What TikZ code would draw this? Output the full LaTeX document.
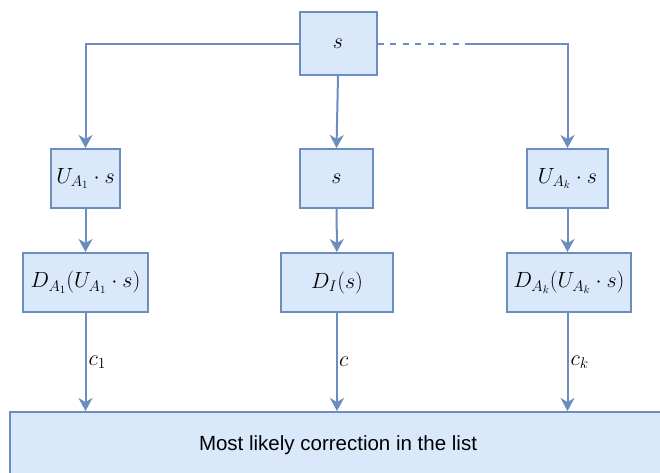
\documentclass[tikz,border=0pt]{standalone}
\usepackage{fix-cm}
\usepackage{fontspec}
\newfontfamily\listfont{Liberation Sans}
\usetikzlibrary{arrows.meta}
\definecolor{boxfill}{HTML}{DAE8FC}
\definecolor{boxline}{HTML}{6C8EBF}

\begin{document}
\begin{tikzpicture}[x=1pt,y=-1pt,
    blk/.style={draw=boxline,fill=boxfill,line width=2pt,inner sep=0pt,minimum height=59pt,font=\fontsize{22}{26}\selectfont},
    link/.style={draw=boxline,line width=2pt},
    flow/.style={link,-{Stealth[length=13pt,width=14pt,inset=4pt]}},
    lbl/.style={right,inner sep=2pt,font=\fontsize{22}{26}\selectfont}]
  \useasboundingbox (0,0) rectangle (660,472);
  % boxes
  \node[blk,minimum width=77pt,minimum height=63pt] (top) at (338,43.5) {$s$};
  \node[blk,minimum width=69pt] (u1) at (85.5,178.5) {$U_{A_1}\cdot s$};
  \node[blk,minimum width=73pt] (mid) at (336.5,178.5) {$s$};
  \node[blk,minimum width=81pt] (uk) at (567.5,178.5) {$U_{A_k}\cdot s$};
  \node[blk,minimum width=125pt] (d1) at (85.5,282.5) {$D_{A_1}(U_{A_1}\cdot s)$};
  \node[blk,minimum width=112pt] (di) at (337,282.5) {$D_I(s)$};
  \node[blk,minimum width=124pt] (dk) at (569,282.5) {$D_{A_k}(U_{A_k}\cdot s)$};
  \node[blk,minimum width=656pt,minimum height=66pt,font=\listfont\fontsize{20.5}{24}\selectfont] (list) at (338,445) {Most likely correction in the list};
  % connectors
  \coordinate (gap) at (470,43.5);
  \draw[flow] (top.west) -| (u1.north);
  \draw[flow] (top.south) -- (mid.north);
  \draw[link,dash pattern=on 6pt off 6.5pt] (top.east) -- (gap);
  \draw[flow] (gap) -| (uk.north);
  \draw[flow] (u1) -- (d1);
  \draw[flow] (mid) -- (di);
  \draw[flow] (uk.south) -- (dk.north -| uk.south);
  \draw[flow] (d1.south) -- node[lbl] {$c_1$} (d1.south |- list.north);
  \draw[flow] (di.south) -- node[lbl,inner sep=1pt] {$c$} (di.south |- list.north);
  \draw[flow] (dk.south -| uk.south) -- node[lbl] {$c_k$} (uk.south |- list.north);
\end{tikzpicture}
\end{document}
